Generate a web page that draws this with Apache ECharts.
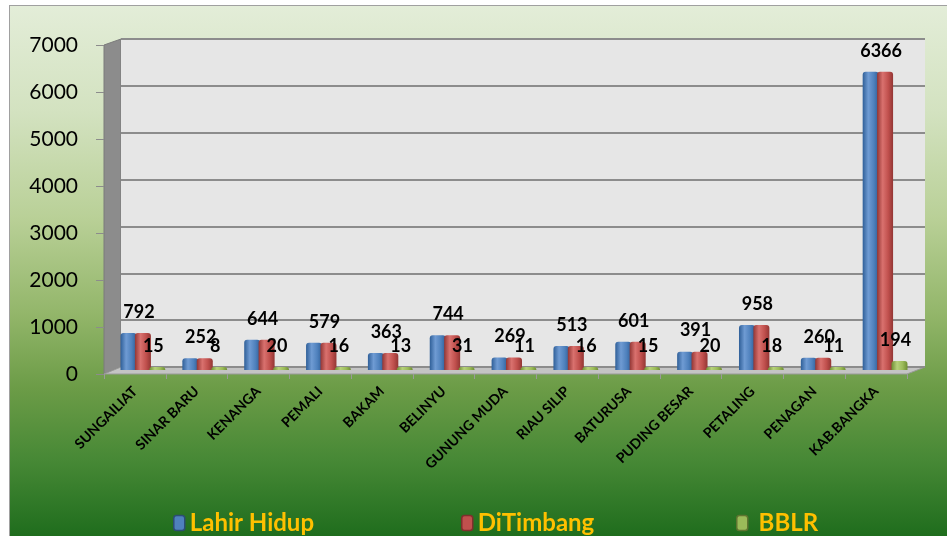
<!DOCTYPE html>
<html>
<head>
<meta charset="utf-8">
<script src="https://cdn.jsdelivr.net/npm/echarts@6/dist/echarts.min.js"></script>
<style>
  html, body { margin: 0; padding: 0; background: #fff; }
  #bg {
    position: absolute; left: 9px; top: 5px; width: 937px; height: 530px;
    border: 1px solid #a0a0a0; border-right: none; border-bottom: none;
    background: linear-gradient(to bottom, #e3edd8 0%, #d3e2c0 20%, #b9d097 40%, #93b66a 58%, #6c9c47 72%, #468835 86%, #1f6d1d 100%);
  }
  #chart { position: absolute; left: 0; top: 0; width: 948px; height: 537px; }
</style>
</head>
<body>
<div id="bg"></div>
<div id="chart"></div>
<script>
const categories = ["SUNGAILIAT", "SINAR BARU", "KENANGA", "PEMALI", "BAKAM", "BELINYU",
  "GUNUNG MUDA", "RIAU SILIP", "BATURUSA", "PUDING BESAR", "PETALING", "PENAGAN", "KAB.BANGKA"];
const lahirHidup = [792, 252, 644, 579, 363, 744, 269, 513, 601, 391, 958, 260, 6366];
const diTimbang = [792, 252, 644, 579, 363, 744, 269, 513, 601, 391, 958, 260, 6366];
const bblr = [15, 8, 20, 16, 13, 31, 11, 16, 15, 20, 18, 11, 194];
const yTicks = [0, 1000, 2000, 3000, 4000, 5000, 6000, 7000];

const chart = echarts.init(document.getElementById("chart"), null, { renderer: "canvas" });

// cylinder-ish horizontal shading
function shade(dark, mid, light) {
  return new echarts.graphic.LinearGradient(0, 0, 1, 0, [
    { offset: 0, color: dark },
    { offset: 0.35, color: light },
    { offset: 0.7, color: mid },
    { offset: 1, color: dark },
  ]);
}

const labelFont = { fontFamily: "Lato", fontWeight: "bold", fontSize: 18, color: "#000" };
const legendText = { fontFamily: "Lato", fontWeight: "bold", fontSize: 24, color: "#ffc000" };

function legendAt(left, name, color, border) {
  return {
    left: left, top: 506, itemWidth: 11, itemHeight: 15,
    textStyle: legendText,
    data: [{ name: name, itemStyle: { color: color, borderColor: border, borderWidth: 1.5 } }],
  };
}

const option = {
  backgroundColor: "transparent",
  animation: false,
  textStyle: { fontFamily: "Lato" },
  graphic: [
    // left side wall
    { type: "polygon", z: -10, shape: { points: [[104, 45], [121, 39], [121, 367], [104, 374]] },
      style: { fill: "#8c8c8c", stroke: "#7a7a7a" } },
    // floor
    { type: "polygon", z: -10, shape: { points: [[104, 374], [121, 367], [925, 367], [907, 374]] },
      style: { fill: "#c4c4c4", stroke: "#9a9a9a" } },
  ],
  grid: [
    // back wall
    { left: 121, right: 23, top: 39, bottom: 170, show: true, backgroundColor: "#e6e6e6", borderWidth: 0 },
    // front plane (axes)
    { left: 104, right: 41, top: 45, bottom: 163 },
    // bar plane
    { left: 112, right: 32, top: 42, bottom: 167 },
  ],
  xAxis: [
    { type: "category", gridIndex: 0, data: categories, show: false },
    {
      type: "category", gridIndex: 1, data: categories,
      axisLine: { show: false },
      axisTick: { show: true, length: 5, lineStyle: { color: "#9a9a9a" } },
      axisLabel: { rotate: 45, margin: 15, interval: 0, fontFamily: "Lato", fontWeight: "bold", fontSize: 14, color: "#000" },
    },
    { type: "category", gridIndex: 2, data: categories, show: false },
  ],
  yAxis: [
    {
      type: "value", gridIndex: 0, min: 0, max: 7000, interval: 1000,
      axisLabel: { show: false }, axisLine: { show: false }, axisTick: { show: false },
      splitLine: { lineStyle: { color: "#8c8c8c", width: 2 } },
    },
    {
      type: "value", gridIndex: 1, min: 0, max: 7000, interval: 1000,
      axisLine: { show: false },
      axisTick: { show: true, length: 8, lineStyle: { color: "#8c8c8c" } },
      splitLine: { show: false },
      axisLabel: {
        margin: 26, fontFamily: "Lato", fontSize: 21, color: "#000",
        formatter: (v) => (yTicks.includes(v) ? String(v) : ""),
      },
    },
    { type: "value", gridIndex: 2, min: 0, max: 7000, interval: 1000, show: false, splitLine: { show: false } },
  ],
  legend: [
    legendAt(168, "Lahir Hidup", "#4f81bd", "#2c4d75"),
    legendAt(456, "DiTimbang", "#c0504d", "#7f2f2d"),
    legendAt(731, " BBLR", "#9bbb59", "#5f7530"),
  ],
  series: [
    {
      name: "Lahir Hidup", type: "bar", xAxisIndex: 2, yAxisIndex: 2,
      barWidth: 16, barGap: "-10%", data: lahirHidup,
      itemStyle: { color: shade("#2f5f98", "#4f81bd", "#6f9bd3"), borderRadius: [3, 3, 0, 0] },
    },
    {
      name: "DiTimbang", type: "bar", xAxisIndex: 2, yAxisIndex: 2,
      barWidth: 16, barGap: "-10%", data: diTimbang,
      itemStyle: { color: shade("#933634", "#c0504d", "#d9716e"), borderRadius: [3, 3, 0, 0] },
      label: { show: true, position: "top", distance: 12, offset: [-4, 0], ...labelFont },
    },
    {
      name: " BBLR", type: "bar", xAxisIndex: 2, yAxisIndex: 2,
      barWidth: 16, barGap: "-10%", barMinHeight: 3, data: bblr,
      itemStyle: { color: shade("#6f8f33", "#9bbb59", "#b6d17a"), borderRadius: [3, 3, 0, 0] },
      label: { show: true, position: "top", distance: 12, offset: [-4, 0], ...labelFont },
    },
  ],
};

chart.setOption(option);
window.addEventListener("resize", () => chart.resize());
</script>
</body>
</html>
